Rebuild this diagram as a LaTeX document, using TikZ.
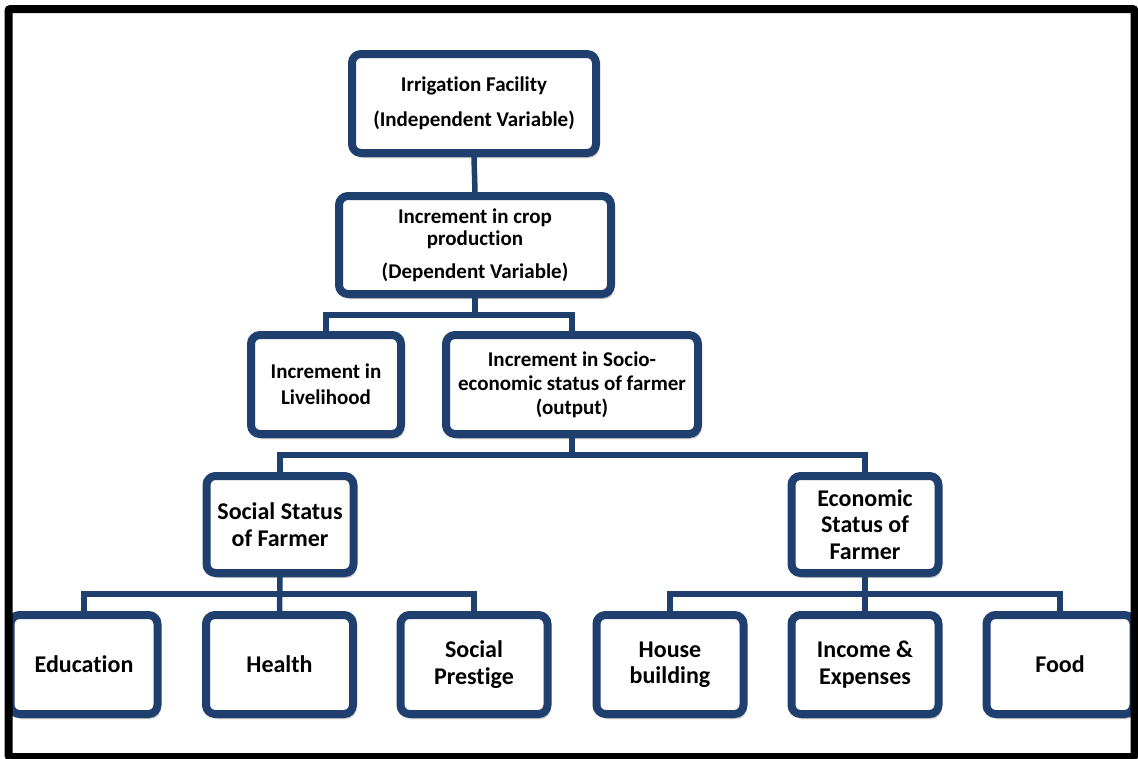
\documentclass[tikz,border=0pt]{standalone}
\usepackage{fontspec}
\setmainfont{Carlito}[Ligatures=NoCommon]
\usetikzlibrary{shadows.blur}

\definecolor{boxblue}{RGB}{31,63,110}

\begin{document}
\begin{tikzpicture}[x=1pt,y=-1pt,
	box/.style={draw=boxblue,line width=8pt,fill=white,rounded corners=9pt,
		align=center,inner sep=0pt,
		blur shadow={shadow xshift=2pt,shadow yshift=-4pt,shadow opacity=45,shadow blur steps=6}},
	topbox/.style={box,font=\bfseries\fontsize{21}{22}\selectfont},
	midbox/.style={box,font=\bfseries\fontsize{24}{26.5}\selectfont,
		minimum width=147pt,minimum height=97pt},
	leafbox/.style={box,font=\bfseries\fontsize{24}{26.5}\selectfont,
		minimum width=147pt,minimum height=99pt}, 
	link/.style={draw=boxblue,line width=5.5pt}]

\useasboundingbox (0,0) rectangle (1138,758);

\def\leafy{664.5}

% top of the chart
\node[topbox,minimum width=244pt,minimum height=99pt] (irr) at (474,103.5)
	{Irrigation Facility\\[13pt](Independent Variable)};
\node[topbox,minimum width=272pt,minimum height=98pt] (crop) at (475,245)
	{Increment in crop\\production\\[11pt](Dependent Variable)};

\node[leafbox,minimum width=150pt,font=\bfseries\fontsize{21}{26}\selectfont] (live) at (326,384.5)
	{Increment in\\Livelihood};
\node[topbox,minimum width=252pt,minimum height=99pt] (socio) at (572,384.5)
	{Increment in Socio-\\[2pt]economic status of farmer\\[2pt](output)};

\node[midbox] (social) at (280,524.5) {Social Status\\of Farmer};
\node[midbox] (econ) at (865,524.5) {Economic\\Status of\\Farmer};

% leaves
\node[leafbox] (edu) at (84,\leafy) {Education};
\node[leafbox] (health) at (279.5,\leafy) {Health};
\node[leafbox] (prestige) at (474,\leafy) {Social\\Prestige};
\node[leafbox] (house) at (670,\leafy) {House\\building};
\node[leafbox] (income) at (865,\leafy) {Income \&\\Expenses};
\node[leafbox] (food) at (1060,\leafy) {Food};

% connectors
\coordinate (busA) at (475,315);
\coordinate (busB) at (572,455);
\coordinate (busC) at (280,594);
\coordinate (busD) at (865,594);

\draw[link] (irr.south) -- (crop.north);
\draw[link] (crop.south) -- (busA);
\draw[link] (live.north) |- (busA) -| (socio.north);
\draw[link] (socio.south) -- (busB);
\draw[link] (social.north) |- (busB) -| (econ.north);
\draw[link] (social.south) -- (health.north);
\draw[link] (edu.north) |- (busC) -| (prestige.north);
\draw[link] (econ.south) -- (income.north);
\draw[link] (house.north) |- (busD) -| (food.north);

% frame
\draw[line width=8pt,rounded corners=2pt] (8.5,9) rectangle (1134.5,757);

\end{tikzpicture}
\end{document}
